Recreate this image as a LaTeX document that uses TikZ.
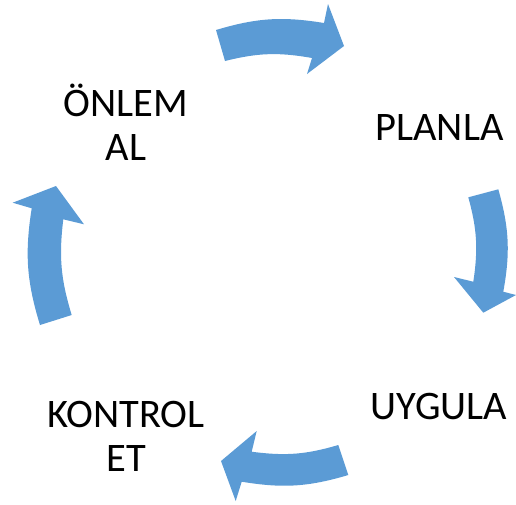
\documentclass[tikz,border=0pt]{standalone}
\usepackage{fontspec}
\setmainfont{Carlito}
\begin{document}
\begin{tikzpicture}[x=1pt,y=-1pt,
  cyclearrow/.style={fill=arrowblue, draw=none},
  lbl/.style={inner sep=0pt, align=center, font=\fontsize{40.5}{44}\selectfont}]
\definecolor{arrowblue}{HTML}{5B9BD5}
\useasboundingbox (0,0) rectangle (516,504);
% top arrow
\coordinate (ta1) at (216,30);
\coordinate (ta2) at (324,23);
\coordinate (ta3) at (328,4);
\coordinate (ta4) at (344,46);
\coordinate (ta5) at (307,74);
\coordinate (ta6) at (312,58);
\coordinate (ta7) at (225,61);
\fill[cyclearrow] (ta1) to[bend left=13] (ta2) -- (ta3) -- (ta4) -- (ta5) -- (ta6) to[bend right=12] (ta7) -- cycle;
% right arrow
\coordinate (ra1) at (498.3,189.3);
\coordinate (ra2) at (503.3,291.7);
\coordinate (ra3) at (516,295);
\coordinate (ra4) at (483.3,312.7);
\coordinate (ra5) at (454,277);
\coordinate (ra6) at (473.3,281.7);
\coordinate (ra7) at (468.3,197.3);
\fill[cyclearrow] (ra1) to[bend left=13] (ra2) -- (ra3) -- (ra4) -- (ra5) -- (ra6) to[bend right=12] (ra7) -- cycle;
% bottom arrow
\coordinate (ba1) at (348.3,475);
\coordinate (ba2) at (241.7,481.7);
\coordinate (ba3) at (235.7,501);
\coordinate (ba4) at (221,461);
\coordinate (ba5) at (256.7,431);
\coordinate (ba6) at (251.7,451.7);
\coordinate (ba7) at (338.3,445);
\fill[cyclearrow] (ba1) to[bend left=13] (ba2) -- (ba3) -- (ba4) -- (ba5) -- (ba6) to[bend right=12] (ba7) -- cycle;
% left arrow
\coordinate (la1) at (40,325);
\coordinate (la2) at (31.7,208.3);
\coordinate (la3) at (12.7,202.7);
\coordinate (la4) at (56,186);
\coordinate (la5) at (84,224.3);
\coordinate (la6) at (63.3,219.3);
\coordinate (la7) at (71.7,315);
\fill[cyclearrow] (la1) to[bend left=13] (la2) -- (la3) -- (la4) -- (la5) -- (la6) to[bend right=12] (la7) -- cycle;
% labels (base anchor = baseline of last line)
\node[lbl, anchor=base] (onlem) at (126,160) {ÖNLEM\\AL};
\node[lbl, anchor=base] (planla) at (439.5,140) {PLANLA};
\node[lbl, anchor=base] (uygula) at (439,419.3) {UYGULA};
\node[lbl, anchor=base] (kontrol) at (126,471.7) {KONTROL\\ET};
\end{tikzpicture}
\end{document}
